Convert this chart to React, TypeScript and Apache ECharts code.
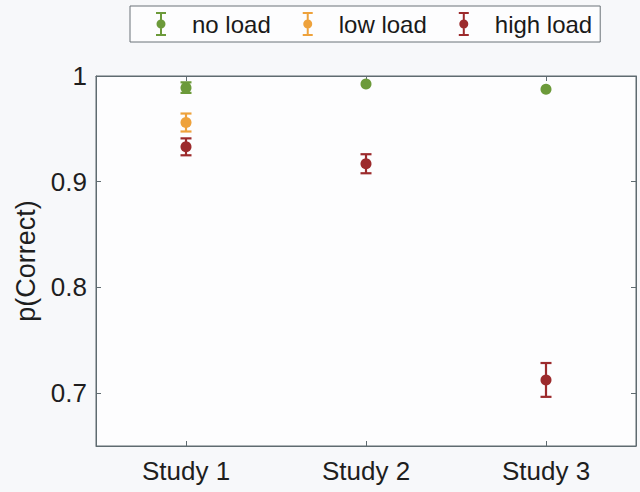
import React, { useEffect, useRef } from "react";
import * as echarts from "echarts";

const categories = ["Study 1", "Study 2", "Study 3"];
const seriesNames = ["no load", "low load", "high load"];
const colors = ["#6c9a3a", "#eea23c", "#9c2a2c"];
// mean values per study (null = condition not run)
const noLoadMean = [0.989, 0.9925, 0.9875];
const noLoadErr = [0.005, 0.001, 0.001];
const lowLoadMean: (number | null)[] = [0.956, null, null];
const lowLoadErr: (number | null)[] = [0.0085, null, null];
const highLoadMean = [0.933, 0.917, 0.7125];
const highLoadErr = [0.008, 0.009, 0.016];
const yTicks = [0.7, 0.8, 0.9, 1];

const FONT = "Liberation Sans, Arial, sans-serif";
const AXIS_COLOR = "#5f6b70";

export default function App() {
  const ref = useRef<HTMLDivElement>(null);
  useEffect(() => {
    document.body.style.margin = "0";
    const chart = echarts.init(ref.current!, null, { renderer: "svg" });
    const means = [noLoadMean, lowLoadMean, highLoadMean];
    const errs = [noLoadErr, lowLoadErr, highLoadErr];

    const scatterSeries = seriesNames.map((name, k) => ({
      name,
      type: "scatter",
      xAxisIndex: 0,
      yAxisIndex: 0,
      symbol: "circle",
      symbolSize: 11,
      itemStyle: { color: colors[k], opacity: 1 },
      data: means[k].map((v, i) => (v == null ? null : [i, v])).filter((d) => d),
      z: 3,
    }));

    const errSeries = seriesNames.map((name, k) => ({
      name,
      type: "custom",
      xAxisIndex: 0,
      yAxisIndex: 0,
      z: 2,
      data: means[k]
        .map((v, i) =>
          v == null ? null : [i, v - (errs[k][i] as number), v + (errs[k][i] as number)]
        )
        .filter((d) => d),
      renderItem: (params: any, api: any) => {
        const lo = api.coord([api.value(0), api.value(1)]);
        const hi = api.coord([api.value(0), api.value(2)]);
        const span = Math.abs(lo[1] - hi[1]);
        const hw = span < 4 ? 3 : 5.5;
        const st = { stroke: colors[k], lineWidth: 2.2, fill: "none" };
        return {
          type: "group",
          children: [
            { type: "line", shape: { x1: lo[0], y1: lo[1], x2: hi[0], y2: hi[1] }, style: st },
            { type: "line", shape: { x1: lo[0] - hw, y1: lo[1], x2: lo[0] + hw, y2: lo[1] }, style: st },
            { type: "line", shape: { x1: hi[0] - hw, y1: hi[1], x2: hi[0] + hw, y2: hi[1] }, style: st },
          ],
        };
      },
    }));

    const iconPath =
      "path://M0,0H10V2H0Z M4,0H6V24H4Z M0,22H10V24H0Z M5,7.5A4.5,4.5 0 1,1 5,16.5A4.5,4.5 0 1,1 5,7.5Z";

    chart.setOption({
      animation: false,
      backgroundColor: "#f7f8fa",
      textStyle: { fontFamily: FONT },
      legend: {
        left: 130,
        top: 6,
        orient: "horizontal",
        data: seriesNames.map((n, k) => ({ name: n, icon: iconPath, itemStyle: { color: colors[k] } })),
        itemWidth: 10,
        itemHeight: 24,
        itemGap: 32,
        padding: [6, 8, 6, 26],
        borderColor: "#6b7378",
        borderWidth: 1,
        backgroundColor: "#fdfdfe",
        borderRadius: 0,
        textStyle: { fontSize: 24, color: "#1a1a1a", fontFamily: FONT, padding: [0, 0, 0, 21] },
        selectedMode: false,
      },
      grid: {
        left: 96,
        right: 4,
        top: 76,
        bottom: 46,
        show: true,
        backgroundColor: "#fdfdfe",
        borderColor: AXIS_COLOR,
        borderWidth: 1,
      },
      xAxis: [
        {
          type: "category",
          data: categories,
          position: "bottom",
          boundaryGap: true,
          axisLine: { show: true, lineStyle: { color: AXIS_COLOR, width: 1 } },
          axisTick: { show: true, inside: true, alignWithLabel: true, length: 5, lineStyle: { color: AXIS_COLOR } },
          axisLabel: { fontSize: 26, color: "#1e1e1e", margin: 12, fontFamily: FONT },
          splitLine: { show: false },
        },
        {
          type: "category",
          data: categories,
          position: "top",
          boundaryGap: true,
          axisLine: { show: true, lineStyle: { color: AXIS_COLOR, width: 1 } },
          axisTick: { show: true, inside: true, alignWithLabel: true, length: 5, lineStyle: { color: AXIS_COLOR } },
          axisLabel: { show: false },
          splitLine: { show: false },
        },
      ],
      yAxis: [
        {
          type: "value",
          min: 0.65,
          max: 1,
          position: "left",
          name: "p(Correct)",
          nameLocation: "middle",
          nameGap: 54,
          nameTextStyle: { fontSize: 27, color: "#1e1e1e", fontFamily: FONT },
          axisLine: { show: true, lineStyle: { color: AXIS_COLOR, width: 1 } },
          axisTick: { show: true, inside: true, length: 5, customValues: yTicks, lineStyle: { color: AXIS_COLOR } },
          axisLabel: {
            fontSize: 26,
            color: "#1e1e1e",
            margin: 9,
            fontFamily: FONT,
            customValues: yTicks,
            formatter: (v: number) => String(Math.round(v * 10) / 10),
          },
          splitLine: { show: false },
        },
        {
          type: "value",
          min: 0.65,
          max: 1,
          position: "right",
          axisLine: { show: true, lineStyle: { color: AXIS_COLOR, width: 1 } },
          axisTick: { show: true, inside: true, length: 5, customValues: yTicks, lineStyle: { color: AXIS_COLOR } },
          axisLabel: { show: false, customValues: yTicks },
          splitLine: { show: false },
        },
      ],
      series: [...errSeries, ...scatterSeries],
    });
    return () => chart.dispose();
  }, []);
  return <div ref={ref} style={{ width: 640, height: 492 }} />;
}
